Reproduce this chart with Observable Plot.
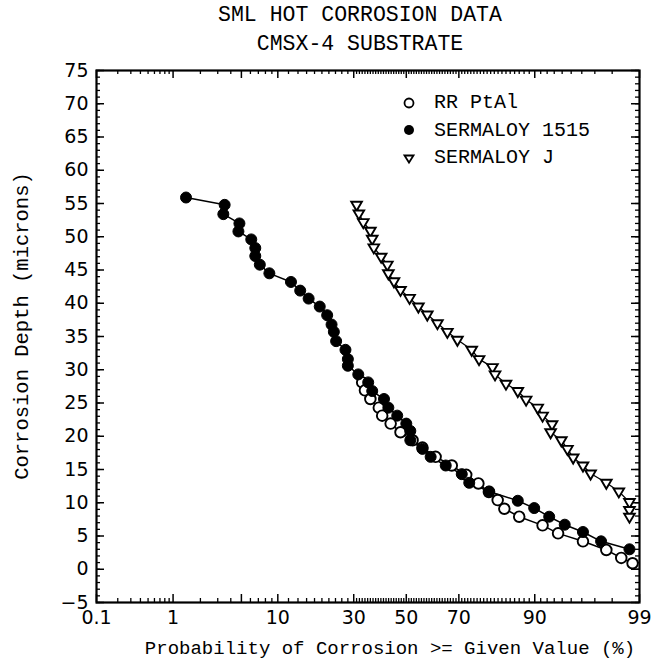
<!DOCTYPE html>
<html>
<head>
<meta charset="utf-8">
<script src="https://cdn.jsdelivr.net/npm/d3@7"></script>
<script src="https://cdn.jsdelivr.net/npm/@observablehq/plot@0.6"></script>
<style>
  body { margin: 0; background: #fff; }
  #wrap { position: relative; width: 657px; height: 665px; background: #fff; overflow: hidden; }
  .mono { font-family: "Liberation Mono", "DejaVu Sans Mono", monospace; color: #000; }
  #title { position: absolute; left: 0; top: 1px; width: 720px; text-align: center; font-size: 21.5px; line-height: 29px; }
  #xlabel { position: absolute; left: 0; top: 638px; width: 780px; text-align: center; font-size: 19px; }
  #ylabel { position: absolute; left: 22px; top: 326px; transform: translate(-50%, -50%) rotate(-90deg); white-space: nowrap; font-size: 20.5px; }
  #legend { position: absolute; left: 396px; top: 89px; font-size: 20px; }
  #legend .row { display: flex; align-items: center; height: 27.5px; }
  #legend svg { width: 26px; height: 20px; margin-right: 12px; }
</style>
</head>
<body>
<div id="wrap">
  <div id="chart"></div>
  <div id="title" class="mono">SML HOT CORROSION DATA<br>CMSX-4 SUBSTRATE</div>
  <div id="ylabel" class="mono">Corrosion Depth (microns)</div>
  <div id="xlabel" class="mono">Probability of Corrosion &gt;= Given Value (%)</div>
  <div id="legend" class="mono"></div>
</div>
<script>
// ---------------- data (probability %, depth microns) ----------------
const seriesNames = ["RR PtAl", "SERMALOY 1515", "SERMALOY J"];

const ptalProb  = [33.0, 34.0, 36.0, 39.2, 40.5, 43.8, 47.7, 52.5, 56.4, 61.5, 67.5, 72.5, 76.4, 79.5, 81.9, 83.6, 87.0, 91.3, 93.5, 96.1, 97.7, 98.4, 98.8];
const ptalDepth = [28.1, 26.9, 25.6, 24.3, 23.1, 21.9, 20.6, 19.4, 18.3, 16.9, 15.6, 14.2, 12.9, 11.6, 10.4, 9.1, 7.9, 6.6, 5.4, 4.2, 2.9, 1.7, 0.9];

const s1515Prob  = [1.4, 3.5, 3.4, 4.8, 4.7, 6.1, 6.6, 6.6, 7.2, 8.6, 12.5, 14.5, 16.5, 19.4, 21.5, 22.8, 23.5, 24.2, 27.2, 28.0, 28.0, 31.6, 35.2, 36.7, 41.2, 42.9, 46.4, 50.0, 51.6, 51.6, 56.4, 59.6, 65.3, 71.0, 73.5, 79.6, 86.7, 89.9, 92.3, 94.3, 96.1, 97.4, 98.7];
const s1515Depth = [55.9, 54.8, 53.4, 52.0, 50.8, 49.6, 48.3, 47.1, 45.8, 44.5, 43.2, 41.9, 40.7, 39.5, 38.2, 36.8, 35.7, 34.3, 33.0, 31.6, 30.6, 29.3, 28.1, 26.8, 25.6, 24.3, 23.1, 21.9, 20.8, 19.4, 18.1, 16.9, 15.6, 14.3, 13.0, 11.7, 10.3, 9.2, 7.9, 6.7, 5.6, 4.2, 3.0];

const sjProb  = [31.0, 31.8, 33.4, 36.0, 36.7, 37.3, 40.1, 42.5, 42.9, 45.1, 47.7, 51.3, 54.8, 58.3, 62.2, 65.9, 69.5, 74.3, 76.6, 80.5, 81.2, 84.0, 86.7, 88.4, 90.5, 91.3, 92.7, 92.5, 93.9, 94.6, 95.2, 96.1, 96.7, 97.7, 98.3, 98.7, 98.7, 98.7];
const sjDepth = [54.8, 53.5, 52.2, 50.9, 49.7, 48.4, 47.0, 45.8, 44.5, 43.3, 42.0, 40.8, 39.5, 38.3, 37.0, 35.7, 34.5, 33.0, 31.6, 30.4, 29.3, 27.9, 26.8, 25.5, 24.3, 23.1, 21.8, 20.6, 19.4, 18.1, 16.8, 15.6, 14.4, 13.0, 11.7, 10.1, 8.9, 7.9];

// axis ticks
const xTickLabels = [0.1, 1, 10, 30, 50, 70, 90, 99];
const xMajorTicks = [0.1, 1, 5, 10, 30, 50, 70, 90, 99];
const xMinorTicks = [0.2, 0.3, 0.4, 0.5, 0.6, 0.7, 0.8, 0.9, 2, 3, 4, 6, 7, 8, 9,
  12, 14, 16, 18, 20, 22, 24, 26, 28,
  31, 32, 33, 34, 35, 36, 37, 38, 39, 40, 41, 42, 43, 44, 45, 46, 47, 48, 49,
  51, 52, 53, 54, 55, 56, 57, 58, 59, 60, 61, 62, 63, 64, 65, 66, 67, 68, 69,
  71, 72, 73, 74, 75, 76, 77, 78, 79, 80, 81, 82, 83, 84, 85, 86, 87, 88, 89,
  91, 92, 93, 94, 95, 96, 97, 98];
const yTickLabels = [-5, 0, 5, 10, 15, 20, 25, 30, 35, 40, 45, 50, 55, 60, 65, 70, 75];
const yMinorTicks = d3.range(-5, 76, 1);

// ---------------- normal probability transform ----------------
function probit(p) {
  const a = [-3.969683028665376e+01, 2.209460984245205e+02, -2.759285104469687e+02, 1.383577518672690e+02, -3.066479806614716e+01, 2.506628277459239e+00];
  const b = [-5.447609879822406e+01, 1.615858368580409e+02, -1.556989798598866e+02, 6.680131188771972e+01, -1.328068155288572e+01];
  const c = [-7.784894002430293e-03, -3.223964580411365e-01, -2.400758277161838e+00, -2.549732539343734e+00, 4.374664141464968e+00, 2.938163982698783e+00];
  const d = [7.784695709041462e-03, 3.224671290700398e-01, 2.445134137142996e+00, 3.754408661907416e+00];
  const pl = 0.02425, ph = 1 - pl;
  if (p < pl) {
    const q = Math.sqrt(-2 * Math.log(p));
    return (((((c[0]*q+c[1])*q+c[2])*q+c[3])*q+c[4])*q+c[5]) / ((((d[0]*q+d[1])*q+d[2])*q+d[3])*q+1);
  }
  if (p <= ph) {
    const q = p - 0.5, r = q * q;
    return (((((a[0]*r+a[1])*r+a[2])*r+a[3])*r+a[4])*r+a[5])*q / (((((b[0]*r+b[1])*r+b[2])*r+b[3])*r+b[4])*r+1);
  }
  const q = Math.sqrt(-2 * Math.log(1 - p));
  return -(((((c[0]*q+c[1])*q+c[2])*q+c[3])*q+c[4])*q+c[5]) / ((((d[0]*q+d[1])*q+d[2])*q+d[3])*q+1);
}
const px = v => probit(v / 100);

const toRows = (probs, depths) => probs.map((p, i) => ({p, depth: depths[i]}));
const ptal = toRows(ptalProb, ptalDepth);
const s1515 = toRows(s1515Prob, s1515Depth);
const sj = toRows(sjProb, sjDepth);

// downward open triangle symbol
const triangleDown = {
  draw(ctx, size) {
    const w = Math.sqrt(size) * 1.2;
    const h = w * 0.85;
    ctx.moveTo(-w / 2, -h / 3);
    ctx.lineTo(w / 2, -h / 3);
    ctx.lineTo(0, 2 * h / 3);
    ctx.closePath();
  }
};

const W = 657, H = 665, mT = 70, mB = 63, mL = 96, mR = 18;
const FH = H - mT - mB, FW = W - mL - mR;
const major = 8, minor = 4;
const xLabelOf = new Map(xTickLabels.map(v => [px(v), String(v)]));

const chart = Plot.plot({
  width: W, height: H,
  marginTop: mT, marginBottom: mB, marginLeft: mL, marginRight: mR,
  style: {fontFamily: "DejaVu Sans, sans-serif", fontSize: "19px", color: "#000", background: "#fff"},
  x: {type: "linear", domain: [px(0.1), px(99)], label: null},
  y: {domain: [-5, 75], label: null},
  marks: [
    // tick labels
    Plot.axisX(xTickLabels.map(px), {anchor: "bottom", tickSize: 0, tickPadding: 8, tickFormat: d => xLabelOf.get(d), label: null, fontSize: 19}),
    Plot.axisY(yTickLabels, {anchor: "left", tickSize: 0, tickPadding: 8, label: null, fontSize: 19}),
    // inward ticks on all four sides
    Plot.tickX(xMinorTicks, {x: px, insetTop: FH - minor, stroke: "#000", strokeWidth: 1.3}),
    Plot.tickX(xMinorTicks, {x: px, insetBottom: FH - minor, stroke: "#000", strokeWidth: 1.3}),
    Plot.tickX(xMajorTicks, {x: px, insetTop: FH - major, stroke: "#000", strokeWidth: 1.5}),
    Plot.tickX(xMajorTicks, {x: px, insetBottom: FH - major, stroke: "#000", strokeWidth: 1.5}),
    Plot.tickY(yMinorTicks, {y: d => d, insetRight: FW - minor, stroke: "#000", strokeWidth: 1.3}),
    Plot.tickY(yMinorTicks, {y: d => d, insetLeft: FW - minor, stroke: "#000", strokeWidth: 1.3}),
    Plot.tickY(yTickLabels, {y: d => d, insetRight: FW - major, stroke: "#000", strokeWidth: 1.5}),
    Plot.tickY(yTickLabels, {y: d => d, insetLeft: FW - major, stroke: "#000", strokeWidth: 1.5}),
    Plot.frame({stroke: "#000", strokeWidth: 2.2}),
    // lines
    Plot.line(ptal, {x: d => px(d.p), y: "depth", stroke: "#000", strokeWidth: 1.5}),
    Plot.line(s1515, {x: d => px(d.p), y: "depth", stroke: "#000", strokeWidth: 1.5}),
    Plot.line(sj, {x: d => px(d.p), y: "depth", stroke: "#000", strokeWidth: 1.3}),
    // markers
    Plot.dot(ptal, {x: d => px(d.p), y: "depth", r: 5.3, fill: "#fff", stroke: "#000", strokeWidth: 1.9}),
    Plot.dot(s1515, {x: d => px(d.p), y: "depth", r: 5.5, fill: "#000", stroke: "#000", strokeWidth: 1}),
    Plot.dot(sj, {x: d => px(d.p), y: "depth", r: 5, symbol: triangleDown, fill: "#fff", stroke: "#000", strokeWidth: 1.9})
  ]
});
document.getElementById("chart").appendChild(chart);

// legend
const legend = document.getElementById("legend");
const symbolsSvg = [
  '<svg viewBox="-13 -10 26 20"><circle r="4.5" fill="#fff" stroke="#000" stroke-width="1.8"/></svg>',
  '<svg viewBox="-13 -10 26 20"><circle r="5" fill="#000"/></svg>',
  '<svg viewBox="-13 -10 26 20"><path d="M-4.5,-2.5L4.5,-2.5L0,4.5Z" fill="#fff" stroke="#000" stroke-width="1.8"/></svg>'
];
seriesNames.forEach((name, i) => {
  const row = document.createElement("div");
  row.className = "row";
  row.innerHTML = symbolsSvg[i] + "<span>" + name + "</span>";
  legend.appendChild(row);
});
</script>
</body>
</html>
